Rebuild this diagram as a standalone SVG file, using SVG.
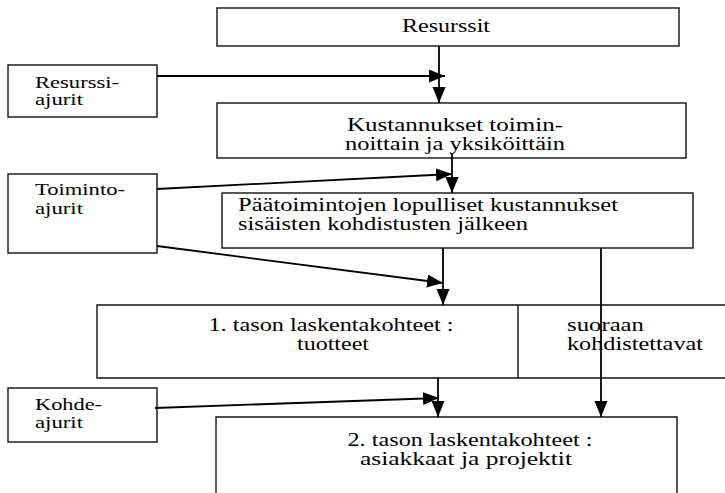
<svg xmlns="http://www.w3.org/2000/svg" width="725" height="493" viewBox="0 0 725 493">
<style>
.box{fill:none;stroke:#111;stroke-width:1.4}
text{font-family:"Liberation Serif","DejaVu Serif","Times New Roman",serif;fill:#000}
.t{font-size:18px}
.s{font-size:16px}
.c{fill:none;stroke:#000;stroke-width:1.8}
</style>
<defs>
<marker id="ah" markerUnits="userSpaceOnUse" markerWidth="17" markerHeight="14" refX="16" refY="6.5" orient="auto">
<path d="M0,0 L16,6.5 L0,13 z" fill="#000"/>
</marker>
</defs>
<rect width="725" height="493" fill="#fff"/>
<g id="resurssit">
<rect class="box" x="217" y="8" width="462" height="38"/>
<text class="t" x="446" y="32" text-anchor="middle" textLength="88" lengthAdjust="spacingAndGlyphs">Resurssit</text>
</g>
<g id="resurssiajurit">
<rect class="box" x="8" y="65" width="149" height="52"/>
<text class="s" x="35" y="88" textLength="84" lengthAdjust="spacingAndGlyphs">Resurssi-</text>
<text class="s" x="35" y="105" textLength="48" lengthAdjust="spacingAndGlyphs">ajurit</text>
</g>
<g id="kustannukset">
<rect class="box" x="217" y="103" width="469" height="55"/>
<text class="t" x="455" y="131" text-anchor="middle" textLength="216" lengthAdjust="spacingAndGlyphs">Kustannukset toimin-</text>
<text class="t" x="455" y="150" text-anchor="middle" textLength="220" lengthAdjust="spacingAndGlyphs">noittain ja yksiköittäin</text>
</g>
<g id="toimintoajurit">
<rect class="box" x="8" y="174" width="149" height="79"/>
<text class="s" x="35" y="195" textLength="90" lengthAdjust="spacingAndGlyphs">Toiminto-</text>
<text class="s" x="35" y="214" textLength="48" lengthAdjust="spacingAndGlyphs">ajurit</text>
</g>
<g id="paatoiminnot">
<rect class="box" x="222" y="193" width="471" height="55"/>
<text class="t" x="238" y="211" textLength="380" lengthAdjust="spacingAndGlyphs">Päätoimintojen lopulliset kustannukset</text>
<text class="t" x="238" y="230" textLength="290" lengthAdjust="spacingAndGlyphs">sisäisten kohdistusten jälkeen</text>
</g>
<g id="taso1">
<path class="box" d="M730,305 H97 V378 H730 M518,305 V378"/>
<text class="t" x="331" y="331" text-anchor="middle" textLength="245" lengthAdjust="spacingAndGlyphs">1. tason laskentakohteet :</text>
<text class="t" x="333" y="350" text-anchor="middle" textLength="72" lengthAdjust="spacingAndGlyphs">tuotteet</text>
<text class="t" x="567" y="331" textLength="77" lengthAdjust="spacingAndGlyphs">suoraan</text>
<text class="t" x="567" y="350" textLength="136" lengthAdjust="spacingAndGlyphs">kohdistettavat</text>
</g>
<g id="kohdeajurit">
<rect class="box" x="8" y="388" width="149" height="54"/>
<text class="s" x="35" y="410" textLength="67" lengthAdjust="spacingAndGlyphs">Kohde-</text>
<text class="s" x="35" y="428" textLength="48" lengthAdjust="spacingAndGlyphs">ajurit</text>
</g>
<g id="taso2">
<path class="box" d="M216,493 V417 H677 V493"/>
<text class="t" x="470" y="446" text-anchor="middle" textLength="245" lengthAdjust="spacingAndGlyphs">2. tason laskentakohteet :</text>
<text class="t" x="466" y="465" text-anchor="middle" textLength="212" lengthAdjust="spacingAndGlyphs">asiakkaat ja projektit</text>
</g>
<g id="connectors">
<line class="c" x1="439" y1="46" x2="439" y2="103" marker-end="url(#ah)"/>
<line class="c" x1="157" y1="76" x2="445" y2="76" marker-end="url(#ah)"/>
<line class="c" x1="452" y1="153" x2="452" y2="193" marker-end="url(#ah)"/>
<line class="c" x1="157" y1="189" x2="452" y2="174" marker-end="url(#ah)"/>
<line class="c" x1="443" y1="248" x2="443" y2="305" marker-end="url(#ah)"/>
<line class="c" x1="157" y1="246" x2="443" y2="283" marker-end="url(#ah)"/>
<line class="c" x1="601" y1="248" x2="601" y2="417" marker-end="url(#ah)"/>
<line class="c" x1="438" y1="378" x2="438" y2="417" marker-end="url(#ah)"/>
<line class="c" x1="155" y1="408" x2="439" y2="398" marker-end="url(#ah)"/>
</g>
</svg>
